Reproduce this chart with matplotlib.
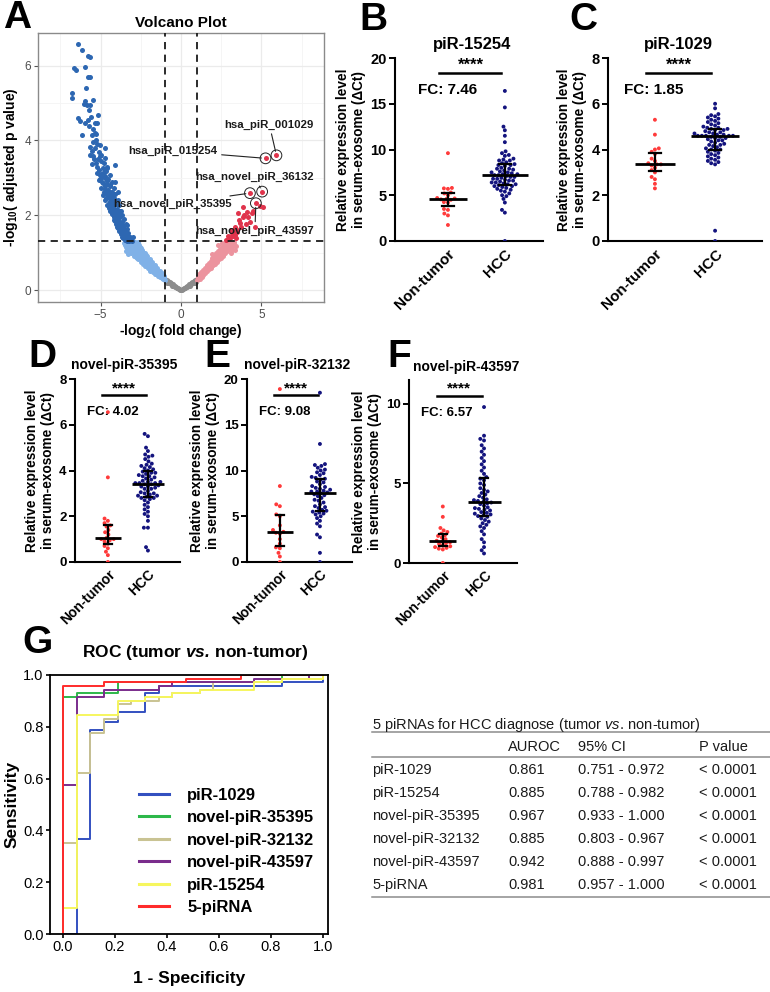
import numpy as np
import matplotlib.pyplot as plt
import seaborn as sns
from matplotlib.lines import Line2D

plt.rcParams['font.family'] = ['Liberation Sans', 'DejaVu Sans']
plt.rcParams['mathtext.fontset'] = 'custom'
plt.rcParams['mathtext.rm'] = 'Liberation Sans'
plt.rcParams['mathtext.bf'] = 'Liberation Sans:bold'
plt.rcParams['mathtext.it'] = 'Liberation Sans:italic'
plt.rcParams['mathtext.bfit'] = 'Liberation Sans:italic:bold'

# ---------------- data: volcano plot ----------------
down_sig_x = [-6.42, -6.17, -5.76, -5.65, -6.65, -6.52, -5.96, -5.76, -5.65, -6.79, -6.79, -5.96,
              -5.86, -5.69, -5.50, -5.18, -6.38, -6.27, -5.96, -5.73, -5.38, -5.24, -6.17, -5.38,
              -5.30, -5.65, -5.24, -4.70, -5.65, -5.45, -5.55, -5.03, -4.10, -4.62, -5.24, -5.03,
              -4.82, -5.13, -4.93, -4.10, -4.82, -4.62, -4.41, -3.89, -4.72, -4.51, -4.20, -4.31,
              -4.10, -3.89, -4.20, -3.79, -4.00, -3.58, -3.37, -3.69, -3.27, -2.96, -3.06,
              -5.55, -5.40, -5.30, -5.20, -5.10, -5.00, -4.90, -5.05, -4.85, -4.75, -4.95, -4.70,
              -4.60, -4.85, -4.55, -4.65, -4.45, -4.40, -4.60, -4.35, -4.50, -4.25, -4.40, -4.15,
              -4.30, -4.05, -4.20, -3.95, -4.10, -3.90, -4.05, -3.85, -3.70, -3.95, -3.75, -3.60,
              -3.85, -3.65, -3.50, -3.75, -3.55, -3.40, -3.62, -3.45, -3.30, -3.50, -3.20, -3.35,
              -3.10, -4.45, -4.30, -4.75, -5.15, -5.45, -5.55, -5.80, -6.05, -5.90, -4.60, -4.00,
              -3.80, -3.15, -3.40, -3.60, -3.28, -3.48, -3.70, -3.35, -3.58, -3.80, -3.45, -3.68,
              -3.90, -3.55, -3.78, -4.00, -3.65, -3.88, -3.75, -3.98, -4.22, -3.88, -4.10, -4.30,
              -3.95, -4.20, -4.42, -4.08, -4.32, -4.52, -4.20, -4.40, -4.62, -4.30, -4.55, -4.72,
              -4.45, -4.68, -4.88, -4.58, -4.80, -5.00, -4.72, -4.95, -5.12, -5.35, -5.05, -5.28,
              -5.48, -5.62, -5.75, -3.22]
down_sig_y = [6.57, 6.42, 6.26, 6.22, 5.93, 5.88, 5.97, 5.70, 5.70, 5.26, 5.12, 5.04,
              4.95, 4.95, 5.08, 4.68, 4.59, 4.53, 4.46, 4.39, 4.46, 4.46, 4.14, 4.19,
              4.16, 3.83, 3.89, 3.79, 3.61, 3.57, 3.37, 3.57, 3.34, 3.25, 3.12, 3.07,
              3.16, 2.94, 2.90, 2.90, 2.63, 2.58, 2.63, 2.63, 2.41, 2.32, 2.41, 2.14,
              2.05, 2.05, 1.87, 1.83, 1.69, 1.60, 1.74, 1.43, 1.38, 1.41, 1.32,
              3.72, 3.50, 3.40, 3.30, 3.20, 3.10, 3.02, 2.98, 2.85, 2.78, 2.72, 2.70,
              2.62, 2.55, 2.50, 2.45, 2.44, 2.35, 2.28, 2.25, 2.20, 2.18, 2.10, 2.12,
              2.02, 1.98, 1.95, 1.92, 1.85, 1.80, 1.77, 1.72, 1.75, 1.66, 1.64, 1.68,
              1.58, 1.55, 1.55, 1.50, 1.47, 1.50, 1.40, 1.38, 1.45, 1.34, 1.34, 1.32,
              1.37, 2.80, 2.55, 3.00, 3.50, 3.95, 4.15, 4.55, 4.98, 5.40, 2.92, 2.30,
              2.10, 1.42, 1.43, 1.46, 1.52, 1.60, 1.58, 1.63, 1.70, 1.68, 1.76, 1.82,
              1.86, 1.90, 1.96, 1.92, 2.00, 2.06, 2.12, 2.16, 2.22, 2.26, 2.30, 2.34,
              2.40, 2.46, 2.52, 2.56, 2.62, 2.68, 2.72, 2.78, 2.84, 2.88, 2.96, 3.05,
              3.08, 3.18, 3.25, 3.30, 3.40, 3.45, 3.52, 3.62, 3.70, 3.80, 3.88, 4.02,
              4.30, 4.62, 4.80, 1.31]

down_ns_x = [-3.55, -3.45, -3.40, -3.35, -3.30, -3.25, -3.20, -3.15, -3.10, -3.05, -3.00, -2.95,
             -2.92, -2.88, -2.85, -2.80, -2.78, -2.72, -2.70, -2.65, -2.65, -2.62, -2.58, -2.55,
             -2.50, -2.48, -2.45, -2.40, -2.36, -2.33, -2.30, -2.25, -2.22, -2.18, -2.15, -2.10,
             -2.06, -2.03, -2.00, -1.95, -1.92, -1.88, -1.85, -1.80, -1.76, -1.72, -1.68, -1.64,
             -1.60, -1.56, -1.52, -1.48, -1.44, -1.40, -1.36, -1.32, -1.28, -1.24, -1.20, -1.16,
             -1.12, -1.08, -1.04, -1.02, -2.60, -2.95, -3.10,
             -3.50, -3.40, -3.30, -3.18, -3.08, -2.98, -2.90, -2.82, -2.75, -2.68, -2.60, -2.52,
             -2.46, -2.42, -2.38, -2.28, -2.24, -2.20, -2.12, -2.08, -2.02, -1.98, -1.94, -1.90,
             -1.82, -1.78, -1.74, -1.66, -1.62, -1.58, -1.50, -1.46, -1.42, -1.34, -1.30, -1.26,
             -1.18, -1.14, -1.10, -1.06, -2.85, -3.25, -2.72, -2.35, -2.55]
down_ns_y = [1.27, 1.15, 1.25, 1.10, 1.20, 1.02, 1.28, 1.12, 0.98, 1.22, 1.05, 0.92,
             1.18, 1.28, 1.00, 0.88, 1.12, 0.95, 1.22, 0.82, 1.28, 1.05, 0.90, 1.15,
             0.75, 0.98, 0.85, 1.06, 0.70, 0.92, 0.80, 0.98, 0.64, 0.86, 0.74, 0.90,
             0.58, 0.78, 0.66, 0.82, 0.52, 0.70, 0.60, 0.74, 0.48, 0.64, 0.55, 0.66,
             0.42, 0.57, 0.48, 0.58, 0.38, 0.50, 0.43, 0.52, 0.34, 0.44, 0.38, 0.45,
             0.30, 0.38, 0.33, 0.27, 1.20, 1.10, 1.24,
             1.20, 1.05, 0.95, 1.18, 1.08, 1.22, 0.98, 1.06, 0.86, 1.10, 0.96, 0.84,
             1.12, 0.76, 0.88, 0.72, 0.86, 0.94, 0.66, 0.80, 0.70, 0.60, 0.76, 0.64,
             0.55, 0.66, 0.58, 0.48, 0.60, 0.52, 0.42, 0.52, 0.46, 0.38, 0.46, 0.40,
             0.33, 0.40, 0.35, 0.30, 1.20, 1.24, 1.25, 1.00, 1.00]

flat_x = [-0.98, -0.95, -0.90, -0.85, -0.80, -0.75, -0.70, -0.65, -0.60, -0.55, -0.50, -0.45,
          -0.40, -0.35, -0.30, -0.25, -0.20, -0.15, -0.10, -0.05, 0.00, 0.05, 0.10, 0.15,
          0.20, 0.25, 0.30, 0.35, 0.40, 0.45, 0.50, 0.55, 0.60, 0.65, 0.70, 0.75,
          0.80, 0.85, 0.90, 0.95, 0.98,
          -0.92, -0.82, -0.72, -0.62, -0.52, -0.42, -0.32, -0.22, -0.12, 0.12, 0.22, 0.32,
          0.42, 0.52, 0.62, 0.72, 0.82, 0.92, -0.97, 0.97]
flat_y = [0.30, 0.22, 0.27, 0.20, 0.24, 0.18, 0.21, 0.15, 0.18, 0.12, 0.15, 0.10,
          0.12, 0.08, 0.09, 0.06, 0.06, 0.04, 0.03, 0.01, 0.00, 0.01, 0.03, 0.04,
          0.06, 0.06, 0.09, 0.08, 0.12, 0.10, 0.15, 0.12, 0.18, 0.15, 0.21, 0.18,
          0.24, 0.20, 0.27, 0.22, 0.30,
          0.24, 0.21, 0.19, 0.16, 0.13, 0.11, 0.07, 0.05, 0.02, 0.02, 0.05, 0.07,
          0.11, 0.13, 0.16, 0.19, 0.21, 0.24, 0.26, 0.26]

up_ns_x = [1.02, 1.05, 1.08, 1.12, 1.16, 1.20, 1.24, 1.28, 1.32, 1.36, 1.40, 1.44,
           1.48, 1.52, 1.56, 1.60, 1.64, 1.68, 1.72, 1.76, 1.80, 1.84, 1.88, 1.92,
           1.96, 2.00, 2.04, 2.08, 2.12, 2.16, 2.20, 2.24, 2.28, 2.32, 2.36, 2.40,
           2.44, 2.48, 2.52, 2.56, 2.60, 2.64, 2.68, 2.72, 2.76, 2.80, 2.85, 2.90,
           2.95, 3.00, 3.05, 3.10, 3.15, 3.20, 3.28, 3.35, 2.30, 1.90, 2.55,
           1.10, 1.18, 1.26, 1.34, 1.42, 1.50, 1.58, 1.66, 1.74, 1.82, 1.86, 1.94,
           2.02, 2.06, 2.10, 2.18, 2.22, 2.26, 2.34, 2.38, 2.42, 2.46, 2.50, 2.58,
           2.62, 2.66, 2.70, 2.74, 2.78, 2.82, 2.88, 2.92, 2.98, 3.02, 3.08, 3.12,
           3.18, 3.24, 3.30, 3.40]
up_ns_y = [0.28, 0.38, 0.33, 0.44, 0.30, 0.40, 0.48, 0.36, 0.46, 0.54, 0.42, 0.52,
           0.60, 0.46, 0.57, 0.66, 0.50, 0.62, 0.72, 0.56, 0.68, 0.78, 0.60, 0.73,
           0.85, 0.66, 0.80, 0.92, 0.70, 0.86, 0.98, 0.76, 0.92, 1.04, 0.82, 0.96,
           1.10, 0.86, 1.02, 1.16, 0.92, 1.08, 1.22, 0.98, 1.14, 1.26, 1.04, 1.18,
           1.28, 1.10, 1.22, 1.00, 1.27, 1.15, 1.24, 1.08, 1.20, 0.95, 1.27,
           0.36, 0.34, 0.42, 0.40, 0.48, 0.54, 0.50, 0.58, 0.64, 0.60, 0.70, 0.66,
           0.74, 0.86, 0.78, 0.80, 0.92, 0.84, 0.90, 1.00, 0.92, 1.04, 0.96, 1.06,
           1.16, 0.98, 1.10, 1.24, 1.04, 1.16, 1.10, 1.24, 1.18, 1.28, 1.14, 1.24,
           1.06, 1.20, 1.28, 1.18]

up_sig_x = [3.87, 3.56, 4.08, 4.39, 3.83, 4.18, 4.91, 5.11, 3.66, 4.03, 4.28, 3.73,
            3.35, 3.50, 3.25, 3.42, 3.04, 3.21, 2.83, 4.60, 3.10, 3.29, 2.94,
            3.15, 3.45, 3.38, 3.00, 3.62, 3.95, 4.50]
up_sig_y = [2.21, 2.07, 2.09, 2.07, 1.94, 1.94, 2.25, 2.21, 1.80, 1.77, 1.83, 1.69,
            1.69, 1.56, 1.44, 1.38, 1.38, 1.49, 1.34, 1.69, 1.60, 1.60, 1.44,
            1.52, 1.62, 1.48, 1.42, 1.88, 2.00, 2.10]

label_names = ['hsa_piR_001029', 'hsa_piR_015254', 'hsa_novel_piR_36132',
               'hsa_novel_piR_35395', 'hsa_novel_piR_43597']
label_x = [5.94, 5.26, 5.05, 4.29, 4.66]
label_y = [3.60, 3.52, 2.63, 2.59, 2.32]

# ---------------- data: dot plots ----------------
groups = ['Non-tumor', 'HCC']
b_nt = [9.6, 5.8, 5.75, 5.7, 5.3, 5.2, 5.0, 4.7, 4.65, 4.6, 4.55, 4.5, 4.25, 4.2, 3.5, 3.4, 3.0, 2.8, 1.75]
b_hcc = [16.4, 14.6, 12.5, 12.1, 11.5, 10.8, 9.8, 9.6, 9.4, 9.3, 9.0, 8.9, 8.8, 8.8, 8.6,
         8.5, 8.4, 8.3, 8.3, 8.2, 8.0, 7.9, 7.9, 7.8, 7.7, 7.6, 7.5, 7.5, 7.4, 7.3,
         7.3, 7.2, 7.2, 7.1, 7.0, 7.0, 6.9, 6.8, 6.8, 6.7, 6.6, 6.6, 6.5, 6.4, 6.4,
         6.3, 6.2, 6.2, 6.1, 6.0, 6.0, 5.9, 5.8, 5.7, 5.6, 5.5, 5.4, 5.2, 5.0, 4.9,
         4.6, 4.2, 3.4, 3.1, 0.0]
c_nt = [5.3, 4.65, 4.05, 4.0, 3.9, 3.8, 3.6, 3.5, 3.4, 3.35, 3.35, 3.3, 3.2, 3.1, 3.0, 2.8, 2.7, 2.5, 2.3]
c_hcc = [6.0, 5.8, 5.55, 5.5, 5.45, 5.4, 5.35, 5.3, 5.25, 5.2, 5.15, 5.1, 5.05, 5.0, 4.95,
         4.95, 4.9, 4.9, 4.85, 4.85, 4.8, 4.75, 4.75, 4.7, 4.7, 4.65, 4.65, 4.6, 4.6, 4.6,
         4.6, 4.6, 4.55, 4.55, 4.5, 4.5, 4.45, 4.4, 4.4, 4.35, 4.3, 4.25, 4.2, 4.2, 4.15,
         4.1, 4.05, 4.0, 4.0, 3.95, 3.9, 3.85, 3.8, 3.75, 3.7, 3.65, 3.6, 3.55, 3.5, 3.45,
         3.4, 3.35, 0.45, 0.0]
d_nt = [6.55, 3.7, 1.9, 1.8, 1.7, 1.6, 1.55, 1.4, 1.3, 1.2, 1.05, 1.0, 1.0, 0.95, 0.9,
        0.8, 0.7, 0.6, 0.45, 0.3, 0.0]
d_hcc = [5.6, 5.5, 5.0, 4.85, 4.7, 4.65, 4.6, 4.5, 4.4, 4.3, 4.25, 4.2, 4.15, 4.1, 4.05,
         4.0, 3.95, 3.9, 3.9, 3.85, 3.8, 3.75, 3.75, 3.7, 3.65, 3.6, 3.55, 3.5, 3.5, 3.45,
         3.45, 3.45, 3.4, 3.4, 3.35, 3.3, 3.3, 3.25, 3.2, 3.2, 3.1, 3.05, 3.0, 3.0, 2.95,
         2.9, 2.9, 2.85, 2.8, 2.8, 2.75, 2.7, 2.6, 2.5, 2.4, 2.3, 2.2, 2.1, 2.0, 1.8,
         1.5, 1.5, 0.65, 0.5]
e_nt = [18.9, 8.3, 6.3, 6.1, 5.2, 5.0, 4.0, 3.5, 3.3, 3.2, 3.1, 2.5, 2.0, 1.6, 1.5, 1.0, 0.6, 0.0]
e_hcc = [18.5, 12.9, 10.7, 10.6, 10.5, 10.3, 10.1, 10.0, 9.8, 9.7, 9.5, 9.3, 9.2, 9.1, 9.0,
         8.8, 8.7, 8.5, 8.3, 8.2, 8.1, 8.0, 7.9, 7.8, 7.7, 7.7, 7.6, 7.5, 7.4, 7.3,
         7.2, 7.0, 6.8, 6.7, 6.5, 6.3, 6.1, 6.0, 5.9, 5.7, 5.6, 5.5, 5.4, 5.3, 5.2,
         5.0, 4.8, 4.5, 4.2, 3.9, 3.0, 2.7, 1.0, 0.0]
f_nt = [3.55, 2.9, 2.2, 2.05, 1.95, 1.85, 1.75, 1.7, 1.6, 1.5, 1.4, 1.35, 1.3, 1.25, 1.2,
        1.1, 1.05, 1.0, 0.95, 0.9, 0.85, 0.0]
f_hcc = [9.8, 8.0, 7.8, 7.7, 7.4, 7.2, 7.0, 6.8, 6.6, 6.4, 6.2, 6.0, 5.8, 5.6, 5.4,
         5.3, 5.2, 5.0, 4.9, 4.7, 4.6, 4.5, 4.4, 4.3, 4.2, 4.1, 4.0, 3.95, 3.9, 3.85,
         3.8, 3.75, 3.7, 3.6, 3.5, 3.45, 3.4, 3.35, 3.3, 3.2, 3.15, 3.1, 3.05, 3.0, 2.95,
         2.9, 2.8, 2.7, 2.6, 2.5, 2.4, 2.3, 2.2, 2.0, 1.8, 1.5, 1.3, 1.0, 0.8, 0.6]
fold_changes = ['7.46', '1.85', '4.02', '9.08', '6.57']

# ---------------- data: ROC ----------------
roc_names = ['piR-1029', 'novel-piR-35395', 'novel-piR-32132', 'novel-piR-43597', 'piR-15254', '5-piRNA']
roc_colors = ['#3350C0', '#2DB84A', '#C9C393', '#7A2C8C', '#F6F65E', '#FF2B2B']
roc_fpr = [
    [0, 0.053, 0.053, 0.105, 0.105, 0.158, 0.158, 0.211, 0.211, 0.316, 0.316, 0.368, 0.368, 0.842, 0.842, 1.0, 1.0],
    [0, 0, 0.053, 0.053, 0.211, 0.211, 0.842, 0.842, 1.0],
    [0, 0, 0.053, 0.053, 0.105, 0.105, 0.158, 0.158, 0.211, 0.211, 0.263, 0.263, 0.368, 0.368,
     0.421, 0.421, 0.526, 0.526, 0.579, 0.579, 0.789, 0.789, 1.0, 1.0],
    [0, 0, 0.053, 0.053, 0.158, 0.158, 0.368, 0.368, 0.421, 0.421, 0.737, 0.737, 0.947, 0.947, 1.0],
    [0, 0, 0.053, 0.053, 0.211, 0.211, 0.316, 0.316, 0.421, 0.421, 0.526, 0.526, 0.737, 0.737,
     0.842, 0.842, 1.0, 1.0],
    [0, 0, 0.158, 0.158, 0.474, 0.474, 0.684, 0.684, 1.0],
]
roc_tpr = [
    [0, 0, 0.366, 0.366, 0.789, 0.789, 0.817, 0.817, 0.859, 0.859, 0.930, 0.930, 0.958, 0.958, 0.972, 0.972, 1.0],
    [0, 0.915, 0.915, 0.930, 0.930, 0.972, 0.972, 1.0, 1.0],
    [0, 0.352, 0.352, 0.620, 0.620, 0.775, 0.775, 0.830, 0.830, 0.887, 0.887, 0.900, 0.900, 0.915,
     0.915, 0.930, 0.930, 0.943, 0.943, 0.972, 0.972, 0.986, 0.986, 1.0],
    [0, 0.577, 0.577, 0.915, 0.915, 0.943, 0.943, 0.957, 0.957, 0.972, 0.972, 0.986, 0.986, 1.0, 1.0],
    [0, 0.099, 0.099, 0.845, 0.845, 0.901, 0.901, 0.915, 0.915, 0.930, 0.930, 0.943, 0.943, 0.972,
     0.972, 0.986, 0.986, 1.0],
    [0, 0.958, 0.958, 0.972, 0.972, 0.986, 0.986, 1.0, 1.0],
]

# ---------------- data: AUROC table ----------------
tab_names = ['piR-1029', 'piR-15254', 'novel-piR-35395', 'novel-piR-32132', 'novel-piR-43597', '5-piRNA']
tab_auroc = ['0.861', '0.885', '0.967', '0.885', '0.942', '0.981']
tab_ci = ['0.751 - 0.972', '0.788 - 0.982', '0.933 - 1.000', '0.803 - 0.967', '0.888 - 0.997', '0.957 - 1.000']
tab_p = ['< 0.0001'] * 6

W, H = 770, 992


def box(l, t, r, b):
    return [l / W, 1 - b / H, (r - l) / W, (b - t) / H]


def fp(x, y):
    return x / W, 1 - y / H


fig = plt.figure(figsize=(7.7, 9.92), dpi=100)

# panel letters
for letter, (lx, ly) in zip('ABCDEFG', [(17, 18), (373, 20), (583, 20), (42, 357),
                                        (217, 357), (399, 357), (37, 643)]):
    fig.text(*fp(lx, ly), letter, fontsize=28, fontweight='bold', ha='center', va='center')

# ================= A: volcano =================
axA = fig.add_axes(box(38, 33, 324, 302))
axA.set_xlim(-8.9, 8.9)
axA.set_ylim(-0.32, 6.87)
axA.set_xticks([-5, 0, 5])
axA.set_xticks([-7.5, -2.5, 2.5, 7.5], minor=True)
axA.set_yticks([0, 2, 4, 6])
axA.set_yticks([1, 3, 5], minor=True)
axA.grid(True, which='major', color='#EBEBEB', lw=0.9)
axA.grid(True, which='minor', color='#F4F4F4', lw=0.6)
axA.set_axisbelow(True)
axA.tick_params(which='major', length=3, color='#555555', labelsize=8.5, labelcolor='#4D4D4D', pad=2)
axA.tick_params(which='minor', length=0)
for sp in axA.spines.values():
    sp.set_color('#8A8A8A')
    sp.set_linewidth(1.0)

ms = 13
axA.scatter(flat_x, flat_y, s=ms, color='#8C8C8C', lw=0, zorder=2)
axA.scatter(down_ns_x, down_ns_y, s=ms, color='#80B1E7', lw=0, zorder=2)
axA.scatter(up_ns_x, up_ns_y, s=ms, color='#EC939E', lw=0, zorder=2)
axA.scatter(down_sig_x, down_sig_y, s=ms, color='#2D67B2', lw=0, zorder=3)
axA.scatter(up_sig_x, up_sig_y, s=ms, color='#E0344C', lw=0, zorder=3)
axA.scatter(label_x, label_y, s=ms, color='#E0344C', lw=0, zorder=4)
axA.scatter(label_x, label_y, s=60, facecolors='none', edgecolors='#222222', lw=0.7, zorder=4)

dash = (0, (4, 3))
axA.axvline(-1, color='#1A1A1A', ls=dash, lw=1.3, zorder=5)
axA.axvline(1, color='#1A1A1A', ls=dash, lw=1.3, zorder=5)
axA.axhline(-np.log10(0.05), color='#1A1A1A', ls=dash, lw=1.3, zorder=5)

label_text_pos = [(5.5, 4.42), (-0.5, 3.72), (4.6, 3.02), (-0.5, 2.30), (4.6, 1.58)]
for name, px, py, (tx, ty) in zip(label_names, label_x, label_y, label_text_pos):
    axA.annotate(name, xy=(px, py), xytext=(tx, ty), ha='center', va='center',
                 fontsize=8.2, fontweight='bold', color='#1A1A1A', zorder=6,
                 arrowprops=dict(arrowstyle='-', color='#222222', lw=0.8, shrinkA=1, shrinkB=3))

fig.text(*fp(181, 23), 'Volcano Plot', fontsize=11, fontweight='bold', ha='center', va='center')
axA.set_ylabel(r'-log$_{\mathbf{10}}$( adjusted p value)', fontsize=10, fontweight='bold', labelpad=3)
axA.set_xlabel(r'-log$_{\mathbf{2}}$( fold change)', fontsize=10, fontweight='bold', labelpad=1)

# ================= B-F: dot plots =================
red_c = '#FF3B3B'
navy_c = '#14147E'


def dot_panel(rect, nt, hcc, ymax, yticks, xlim, title, title_xy, fc, bar_y, fc_y, small):
    ax = fig.add_axes(rect)
    vals = nt + hcc
    grp = [groups[0]] * len(nt) + [groups[1]] * len(hcc)
    sns.swarmplot(x=grp, y=vals, hue=grp, order=groups, hue_order=groups,
                  palette=[red_c, navy_c], size=2.8, linewidth=0, ax=ax, legend=False, zorder=3)
    for i, (d, w) in enumerate(((nt, 0.33), (hcc, 0.40))):
        q1, med, q3 = np.percentile(d, [25, 50, 75])
        ax.plot([i - w, i + w], [med, med], color='black', lw=2.0, zorder=5, solid_capstyle='butt')
        ax.plot([i, i], [q1, q3], color='black', lw=1.6, zorder=5)
        for q in (q1, q3):
            ax.plot([i - 0.1, i + 0.1], [q, q], color='black', lw=1.6, zorder=5)
    fs_tick, fs_x, fs_fc, fs_title, fs_star = (9.5, 10, 9.5, 10, 11) if small else (10.5, 11, 11, 12, 12)
    ax.set_xlim(*xlim)
    ax.set_ylim(0, ymax)
    ax.set_yticks(yticks)
    ax.set_yticklabels([str(t) for t in yticks], fontweight='bold', fontsize=fs_tick)
    ax.set_xticks([0, 1])
    ax.set_xticklabels(groups, rotation=45, ha='right', rotation_mode='anchor',
                       fontweight='bold', fontsize=fs_x)
    ax.tick_params(axis='y', direction='out', length=4, width=1.4, pad=2)
    ax.tick_params(axis='x', length=0, pad=4)
    for s in ('top', 'right'):
        ax.spines[s].set_visible(False)
    for s in ('left', 'bottom'):
        ax.spines[s].set_linewidth(1.5)
    ax.set_ylabel('Relative expression level\nin serum-exosome (ΔCt)', fontsize=9.8,
                  fontweight='bold', labelpad=3, linespacing=1.2)
    ax.set_xlabel('')
    # significance bar and fold change
    ax.plot([-0.15, 0.94], [bar_y, bar_y], color='black', lw=1.8, clip_on=False)
    ax.text(0.395, bar_y, '****', ha='center', va='bottom', fontsize=fs_star, fontweight='bold')
    ax.text(-0.52, fc_y, 'FC: ' + fc, ha='left', va='center', fontsize=fs_fc, fontweight='bold')
    fig.text(*fp(*title_xy), title, fontsize=fs_title, fontweight='bold', ha='center', va='center')
    return ax


dot_panel(box(395, 58, 543, 241), b_nt, b_hcc, 20, [0, 5, 10, 15, 20], (-0.93, 1.67),
          'piR-15254', (472, 44), fold_changes[0], 18.4, 16.5, False)
dot_panel(box(608, 58, 762, 241), c_nt, c_hcc, 8, [0, 2, 4, 6, 8], (-0.78, 1.78),
          'piR-1029', (678, 44), fold_changes[1], 7.34, 6.6, False)
dot_panel(box(75, 379, 180, 562), d_nt, d_hcc, 8, [0, 2, 4, 6, 8], (-0.82, 1.8),
          'novel-piR-35395', (124, 365), fold_changes[2], 7.3, 6.56, True)
dot_panel(box(247, 379, 352, 562), e_nt, e_hcc, 20, [0, 5, 10, 15, 20], (-0.82, 1.8),
          'novel-piR-32132', (297, 365), fold_changes[3], 18.25, 16.4, True)
dot_panel(box(409, 380, 517, 563), f_nt, f_hcc, 11.5, [0, 5, 10], (-0.82, 1.8),
          'novel-piR-43597', (466, 367), fold_changes[4], 10.5, 9.4, True)

# ================= G: ROC =================
axG = fig.add_axes(box(50, 675, 328, 934))
for fpr, tpr, col, name in zip(roc_fpr, roc_tpr, roc_colors, roc_names):
    axG.plot(fpr, tpr, color=col, lw=1.4, label=name)
axG.set_xlim(-0.05, 1.02)
axG.set_ylim(0, 1.0)
axG.set_xticks(np.arange(0, 1.01, 0.2))
axG.set_yticks(np.arange(0, 1.01, 0.2))
axG.set_xticklabels(['0.0', '0.2', '0.4', '0.6', '0.8', '1.0'])
axG.set_yticklabels(['0.0', '0.2', '0.4', '0.6', '0.8', '1.0'])
axG.tick_params(direction='out', length=3, width=1.2, labelsize=10.5, pad=1.5)
for sp in axG.spines.values():
    sp.set_linewidth(1.3)
axG.set_xlabel('1 - Specificity', fontsize=12.5, fontweight='bold', labelpad=12)
axG.set_ylabel('Sensitivity', fontsize=12.5, fontweight='bold', labelpad=3)
leg = axG.legend(loc='upper left', bbox_to_anchor=(0.32, 0.565), frameon=False,
                 prop={'weight': 'bold', 'size': 12}, handlelength=1.8, handletextpad=1.1,
                 labelspacing=0.45, borderpad=0, borderaxespad=0)
for h in leg.get_lines():
    h.set_linewidth(2.2)
fig.text(*fp(195, 653), r'ROC (tumor $\mathbfit{vs.}\,$non-tumor)', fontsize=12.5,
         fontweight='bold', ha='center', va='center')

# ================= AUROC table =================
rule_c = '#8C8C8C'
for y in (732, 757, 897):
    fig.add_artist(Line2D([372 / W, 770 / W], [1 - y / H, 1 - y / H], transform=fig.transFigure,
                          color=rule_c, lw=1.1))
fig.text(*fp(372, 725), r'5 piRNAs for HCC diagnose (tumor $\mathit{vs.}\,$non-tumor)',
         fontsize=10.5, ha='left', va='center', color='#1A1A1A')
col_x = [372, 508, 578, 699]
for x, h in zip(col_x[1:], ['AUROC', '95% CI', 'P value']):
    fig.text(*fp(x, 747), h, fontsize=10.5, ha='left', va='center', color='#1A1A1A')
for i, row in enumerate(zip(tab_names, tab_auroc, tab_ci, tab_p)):
    y = 770 + 23 * i
    for x, cell in zip(col_x, row):
        fig.text(*fp(x, y), cell, fontsize=10.5, ha='left', va='center', color='#1A1A1A')

fig.savefig('out.png', dpi=100)
